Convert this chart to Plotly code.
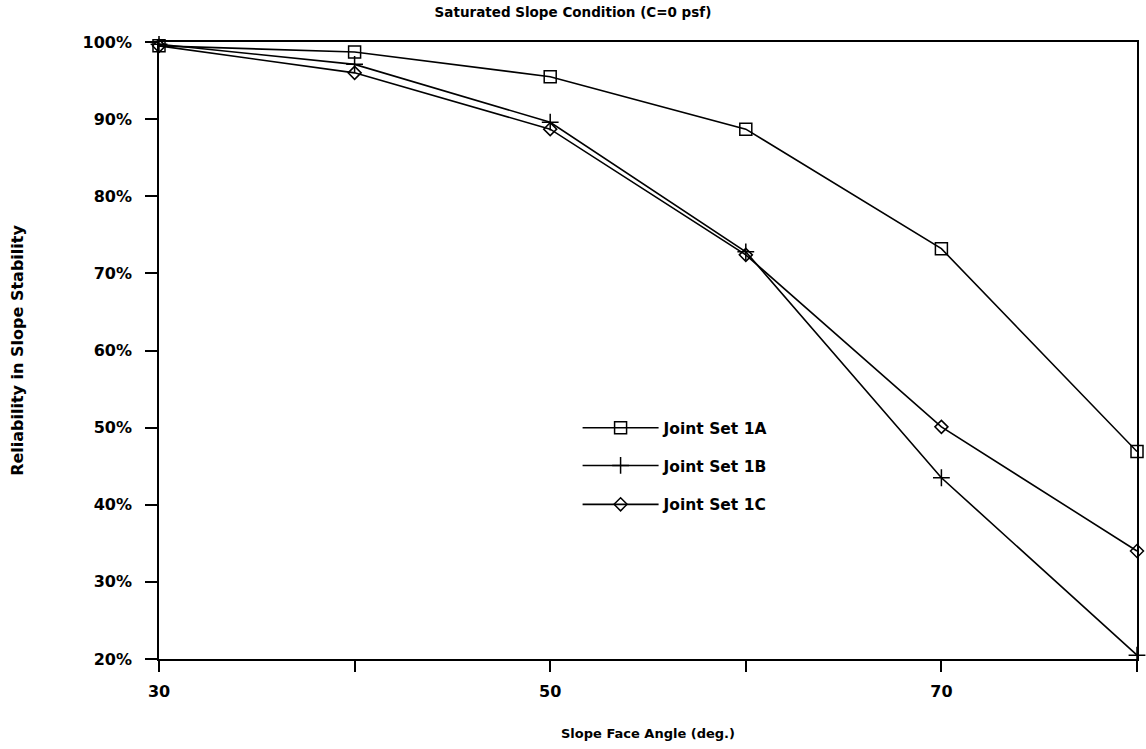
import plotly.graph_objects as go

angles = [30, 40, 50, 60, 70, 80]
set_1a = [99.5, 98.7, 95.5, 88.7, 73.2, 46.9]
set_1b = [99.7, 97.1, 89.6, 72.8, 43.5, 20.5]
set_1c = [99.5, 96.0, 88.7, 72.4, 50.1, 34.0]
names = ["Joint Set 1A", "Joint Set 1B", "Joint Set 1C"]
x_tick_vals = [30, 40, 50, 60, 70, 80]
x_tick_text = ["30", "", "50", "", "70", ""]
y_tick_vals = [20, 30, 40, 50, 60, 70, 80, 90, 100]
y_tick_text = [f"{v}%" for v in y_tick_vals]

FONT = "DejaVu Sans"
fig = go.Figure()
symbols = ["square-open", "cross-thin-open", "diamond-open"]
sizes = [12, 12, 10]
legends = ["legend", "legend2", "legend3"]
for name, vals, sym, sz, lg in zip(names, [set_1a, set_1b, set_1c], symbols, sizes, legends):
    fig.add_trace(go.Scatter(
        x=angles, y=vals, name=name, mode="lines+markers",
        line=dict(color="black", width=1.6),
        marker=dict(symbol=sym, size=sz, color="black", line=dict(color="black", width=1.5)),
        legend=lg, cliponaxis=False, showlegend=True,
    ))

leg_common = dict(font=dict(family=FONT, size=15.5, color="black", weight="bold"),
                  bgcolor="rgba(0,0,0,0)", itemwidth=76, xanchor="left", yanchor="middle",
                  x=0.428, visible=True)
fig.update_layout(
    width=1146, height=749,
    showlegend=True,
    margin=dict(l=159, r=7, t=42, b=90),
    paper_bgcolor="white", plot_bgcolor="white",
    title=dict(text="Saturated Slope Condition (C=0 psf)", x=0.5, xref="container",
               y=0.99, yanchor="top",
               font=dict(family=FONT, size=13.5, color="black", weight="bold")),
    legend=dict(y=0.374, **leg_common),
    legend2=dict(y=0.313, **leg_common),
    legend3=dict(y=0.250, **leg_common),
    xaxis=dict(range=[30, 80], tickmode="array", tickvals=x_tick_vals, ticktext=x_tick_text,
               ticks="outside", ticklen=11, tickwidth=1.5, tickcolor="black",
               ticklabelstandoff=6,
               showline=True, linecolor="black", linewidth=1.6, mirror=True,
               showgrid=False, zeroline=False,
               tickfont=dict(family=FONT, size=16, color="black", weight="bold"),
               title=dict(text="Slope Face Angle (deg.)", standoff=29,
                          font=dict(family=FONT, size=13, color="black", weight="bold"))),
    yaxis=dict(range=[20, 100], tickmode="array", tickvals=y_tick_vals, ticktext=y_tick_text,
               ticks="outside", ticklen=12, tickwidth=1.5, tickcolor="black",
               ticklabelstandoff=10,
               showline=True, linecolor="black", linewidth=1.6, mirror=True,
               showgrid=False, zeroline=False,
               tickfont=dict(family=FONT, size=16, color="black", weight="bold"),
               title=dict(text="Reliability in Slope Stability", standoff=55,
                          font=dict(family=FONT, size=16, color="black", weight="bold"))),
)
fig.write_html("out.html", config={"displayModeBar": False},
               post_script="document.body.style.margin='0';")
